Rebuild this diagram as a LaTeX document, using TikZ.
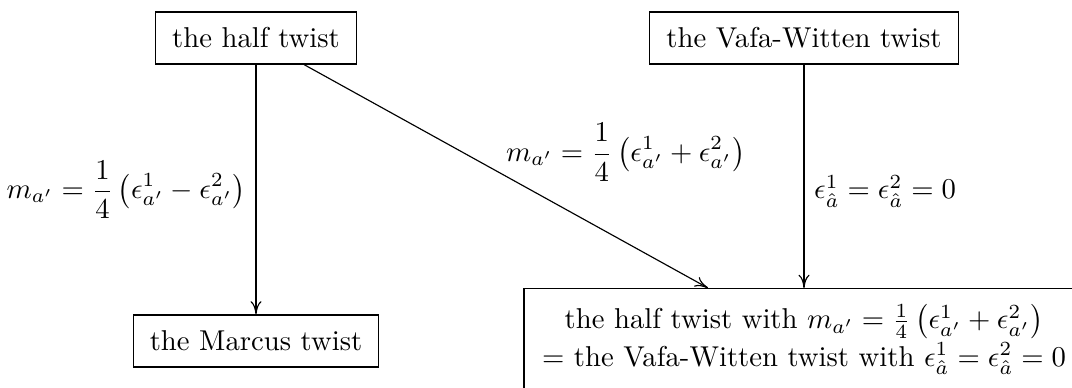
\documentclass[tikz,border=0pt]{standalone}
\usetikzlibrary{arrows.meta,calc}
\begin{document}
\begin{tikzpicture}[x=0.3484pt,y=-0.3484pt,
  every node/.style={font=\fontsize{10}{12}\selectfont},
  twistbox/.style={draw, line width=0.4pt, inner xsep=5.8pt, inner ysep=5.6pt, text height=6.94pt, text depth=0pt},
  bigbox/.style={draw, line width=0.4pt, align=center, inner xsep=5.3pt, inner ysep=5.5pt, minimum width=195.1pt, text depth=9pt},
  conn/.style={line width=0.4pt, -{Computer Modern Rightarrow[length=4.6pt,width=3.8pt]}},
  lab/.style={inner sep=3.33pt}]
\useasboundingbox (0,0) rectangle (1072,387);
\clip (0,0) rectangle (1072,387);
\node[twistbox] (ht) at (256,38) {the half twist};
\node[twistbox] (vw) at (804,38) {the Vafa-Witten twist};
\node[twistbox] (mt) at (256,341) {the Marcus twist};
\node[bigbox, anchor=north] (hw) at (804,288) {the half twist with $m_{a'}=\frac14\left(\epsilon^1_{a'}+\epsilon^2_{a'}\right)$\\[1pt] $=$ the Vafa-Witten twist with $\epsilon^1_{\hat a}=\epsilon^2_{\hat a}=0$};
\coordinate (hwin) at ($(hw.north)+(-96,0)$);
\draw[conn] (ht) -- (mt) node[midway, left, lab] {$\displaystyle m_{a'}=\frac{1}{4}\left(\epsilon^1_{a'}-\epsilon^2_{a'}\right)$};
\draw[conn] (ht) -- (hwin) node[midway, anchor=west, lab, xshift=-3.5pt, yshift=8.4pt] {$\displaystyle m_{a'}=\frac{1}{4}\left(\epsilon^1_{a'}+\epsilon^2_{a'}\right)$};
\draw[conn] (vw) -- (hw) node[pos=0.567, right, lab] {$\epsilon^1_{\hat a}=\epsilon^2_{\hat a}=0$};
\end{tikzpicture}
\end{document}
